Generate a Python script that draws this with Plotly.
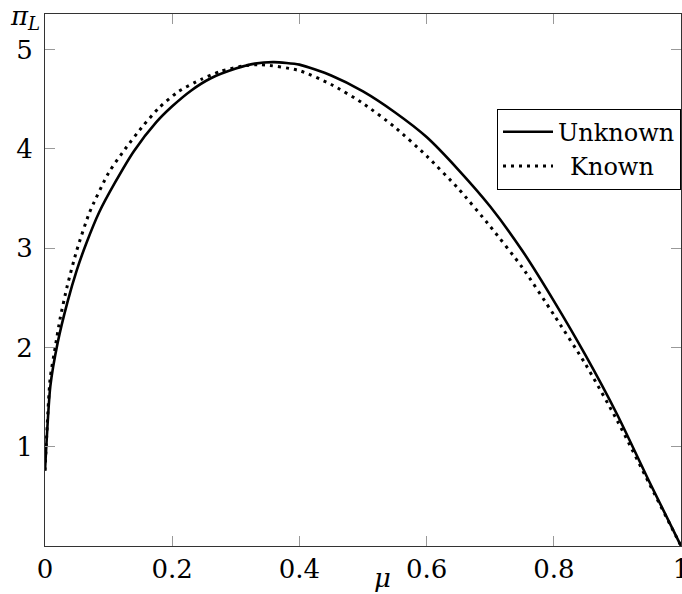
import plotly.graph_objects as go

# Data
mu_unknown = [0.0, 0.0084, 0.02, 0.035, 0.05, 0.065, 0.085, 0.11, 0.14, 0.175, 0.2,
              0.23, 0.26, 0.3, 0.33, 0.36, 0.4, 0.45, 0.5, 0.55, 0.6, 0.65, 0.7,
              0.75, 0.8, 0.85, 0.9, 0.95, 1.0]
pi_unknown = [0.76, 1.61, 2.05, 2.45, 2.78, 3.05, 3.36, 3.66, 3.98, 4.27, 4.43,
              4.59, 4.71, 4.81, 4.86, 4.875, 4.85, 4.74, 4.58, 4.37, 4.12, 3.79, 3.42,
              2.98, 2.47, 1.92, 1.32, 0.65, 0.0]

mu_known = [0.0, 0.008, 0.016, 0.024, 0.035, 0.05, 0.07, 0.1, 0.126, 0.155, 0.18,
            0.21, 0.245, 0.275, 0.31, 0.34, 0.4, 0.45, 0.5, 0.55, 0.6, 0.65, 0.7,
            0.75, 0.8, 0.85, 0.9, 0.95, 1.0]
pi_known = [0.76, 1.68, 2.00, 2.30, 2.62, 2.98, 3.36, 3.76, 4.00, 4.24, 4.42,
            4.58, 4.70, 4.78, 4.835, 4.85, 4.79, 4.65, 4.46, 4.22, 3.93, 3.60, 3.22,
            2.81, 2.33, 1.83, 1.26, 0.63, 0.0]

x_ticks = [0, 0.2, 0.4, 0.6, 0.8, 1]
x_ticklabels = ["0", "0.2", "0.4", "0.6", "0.8", "1"]
y_ticks = [1, 2, 3, 4, 5]
y_ticklabels = ["1", "2", "3", "4", "5"]

FONT = "DejaVu Serif"

fig = go.Figure()
fig.add_trace(go.Scatter(x=mu_unknown, y=pi_unknown, mode="lines", name="Unknown",
                         line=dict(color="black", width=2.6, shape="spline", smoothing=0.6)))
fig.add_trace(go.Scatter(x=mu_known, y=pi_known, mode="lines", name="\u2002Known",
                         line=dict(color="black", width=3, dash="3px,5px",
                                   shape="spline", smoothing=0.6)))

axis_common = dict(showgrid=False, zeroline=False, showline=True, linecolor="#333",
                   linewidth=1, mirror="allticks", ticks="inside", ticklen=10,
                   tickcolor="#999", tickwidth=1, automargin=False,
                   ticklabeloverflow="allow",
                   tickfont=dict(family=FONT, size=26, color="black"))

fig.update_xaxes(range=[0, 1], tickvals=x_ticks, ticktext=x_ticklabels, **axis_common)
fig.update_yaxes(range=[0, 5.36], tickvals=y_ticks, ticktext=y_ticklabels,
                 ticklabelstandoff=6, **axis_common)

fig.update_layout(
    width=682, height=594,
    margin=dict(l=45, r=1, t=14, b=48),
    paper_bgcolor="white", plot_bgcolor="white",
    font=dict(family=FONT, size=24, color="black"),
    legend=dict(x=1, xanchor="right", y=0.822, yanchor="top",
                bordercolor="black", borderwidth=1, bgcolor="white",
                itemwidth=50,
                font=dict(family=FONT, size=24)),
    annotations=[
        dict(text="<i>μ</i>", xref="paper", yref="paper", x=0.530, y=-0.06,
             xanchor="center", yanchor="middle", showarrow=False,
             font=dict(family=FONT, size=26)),
        dict(text="<i>π</i><sub><i>L</i></sub>", xref="paper", yref="paper",
             x=-0.032, y=0.993, xanchor="center", yanchor="middle", showarrow=False,
             font=dict(family=FONT, size=26)),
    ],
)

fig.write_html("out.html", config={"displayModeBar": False},
               post_script="document.body.style.margin='0';document.body.style.overflow='hidden';")
